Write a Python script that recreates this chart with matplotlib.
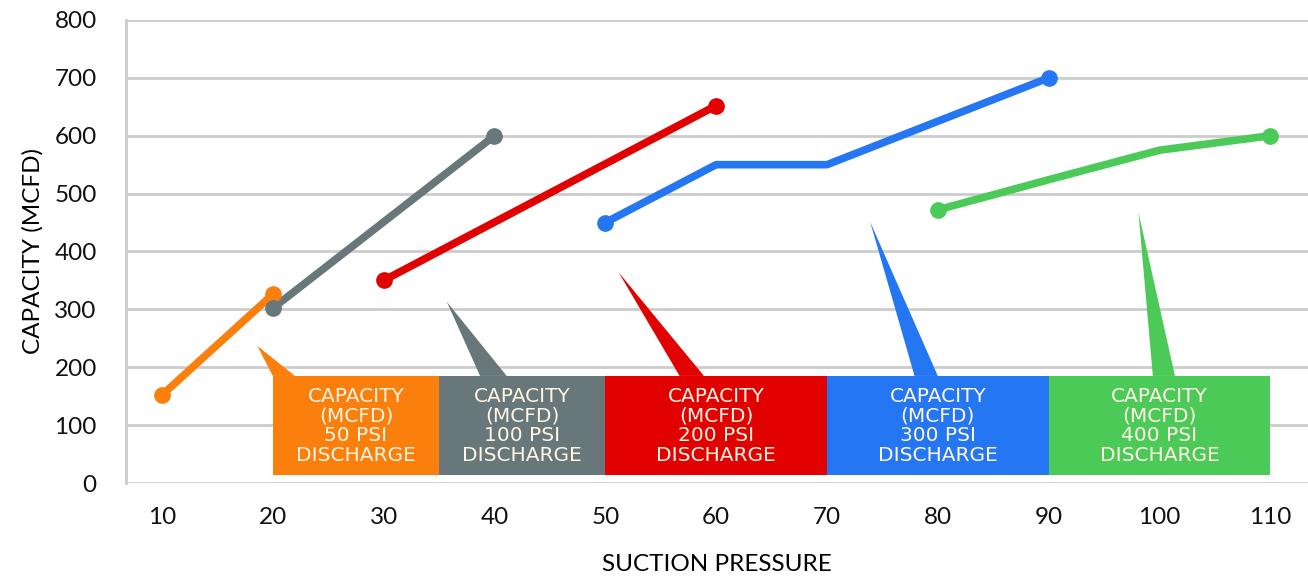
import matplotlib
matplotlib.use('Agg')
import matplotlib.pyplot as plt
from matplotlib.patches import Rectangle, Polygon

plt.rcParams['font.family'] = ['Lato', 'DejaVu Sans']

# series data (suction pressure, capacity)
orange_x = [10, 20]
orange_y = [152, 326]
gray_x = [20, 40]
gray_y = [302, 600]
red_x = [30, 60]
red_y = [350, 652]
blue_x = [50, 60, 70, 90]
blue_y = [450, 550, 550, 700]
green_x = [80, 90, 100, 110]
green_y = [472, 524, 575, 600]

labels = ['CAPACITY\n(MCFD)\n50 PSI\nDISCHARGE',
          'CAPACITY\n(MCFD)\n100 PSI\nDISCHARGE',
          'CAPACITY\n(MCFD)\n200 PSI\nDISCHARGE',
          'CAPACITY\n(MCFD)\n300 PSI\nDISCHARGE',
          'CAPACITY\n(MCFD)\n400 PSI\nDISCHARGE']
colors = ['#fb7f0c', '#687779', '#e10101', '#2476f3', '#4cca58']

xticks = [10, 20, 30, 40, 50, 60, 70, 80, 90, 100, 110]
yticks = [0, 100, 200, 300, 400, 500, 600, 700, 800]

# label box layout: (left, right) in data x, and callout (tip x, tip y, base x0, base x1)
box_edges = [(20, 35), (35, 50), (50, 70), (70, 90), (90, 110)]
box_bottom, box_top = 14, 185
callouts = [(18.6, 237, 20.0, 22.0),
            (35.7, 313, 38.7, 41.1),
            (51.2, 364, 56.7, 58.9),
            (73.9, 451, 77.9, 80.0),
            (98.1, 468, 99.4, 101.4)]

fig = plt.figure(figsize=(13.08, 5.79), dpi=100)
ax = fig.add_axes([0.0963, 0.1658, 0.9037, 0.7997])

ax.set_xlim(6.75, 113.4)
ax.set_ylim(0, 800)
ax.set_yticks(yticks)
ax.set_xticks(xticks)
ax.grid(axis='y', color='#cccccc', linewidth=2)
ax.set_axisbelow(True)
for s in ['top', 'right', 'bottom']:
    ax.spines[s].set_visible(False)
ax.spines['left'].set_color('#cccccc')
ax.spines['left'].set_linewidth(2)
ax.tick_params(length=0, labelsize=17.5, colors='#111111')
ax.tick_params(axis='y', pad=21)
ax.tick_params(axis='x', pad=17)

series = [(orange_x, orange_y), (gray_x, gray_y), (red_x, red_y),
          (blue_x, blue_y), (green_x, green_y)]
for (xs, ys), c in zip(series, colors):
    ax.plot(xs, ys, color=c, linewidth=5.5, solid_capstyle='round', zorder=3)
    ax.plot([xs[0], xs[-1]], [ys[0], ys[-1]], 'o', color=c, markersize=11,
            zorder=4, clip_on=False)

for (x0, x1), (tx, ty, b0, b1), c, lab in zip(box_edges, callouts, colors, labels):
    ax.add_patch(Rectangle((x0, box_bottom), x1 - x0, box_top - box_bottom,
                           facecolor=c, edgecolor='none', zorder=5))
    ax.add_patch(Polygon([(tx, ty), (b0, box_top), (b1, box_top)],
                         closed=True, facecolor=c, edgecolor='none', zorder=5))
    ax.text((x0 + x1) / 2, (box_bottom + box_top) / 2 - 1, lab, color='#fff6e6',
            ha='center', va='center', fontsize=14.5, linespacing=1.05,
            family=['Liberation Sans Narrow', 'DejaVu Sans'], zorder=6)

ax.set_ylabel('CAPACITY (MCFD)', fontsize=17.5, labelpad=8)
ax.set_xlabel('SUCTION PRESSURE', fontsize=17.5, labelpad=19)

fig.savefig('out.png', dpi=100)
